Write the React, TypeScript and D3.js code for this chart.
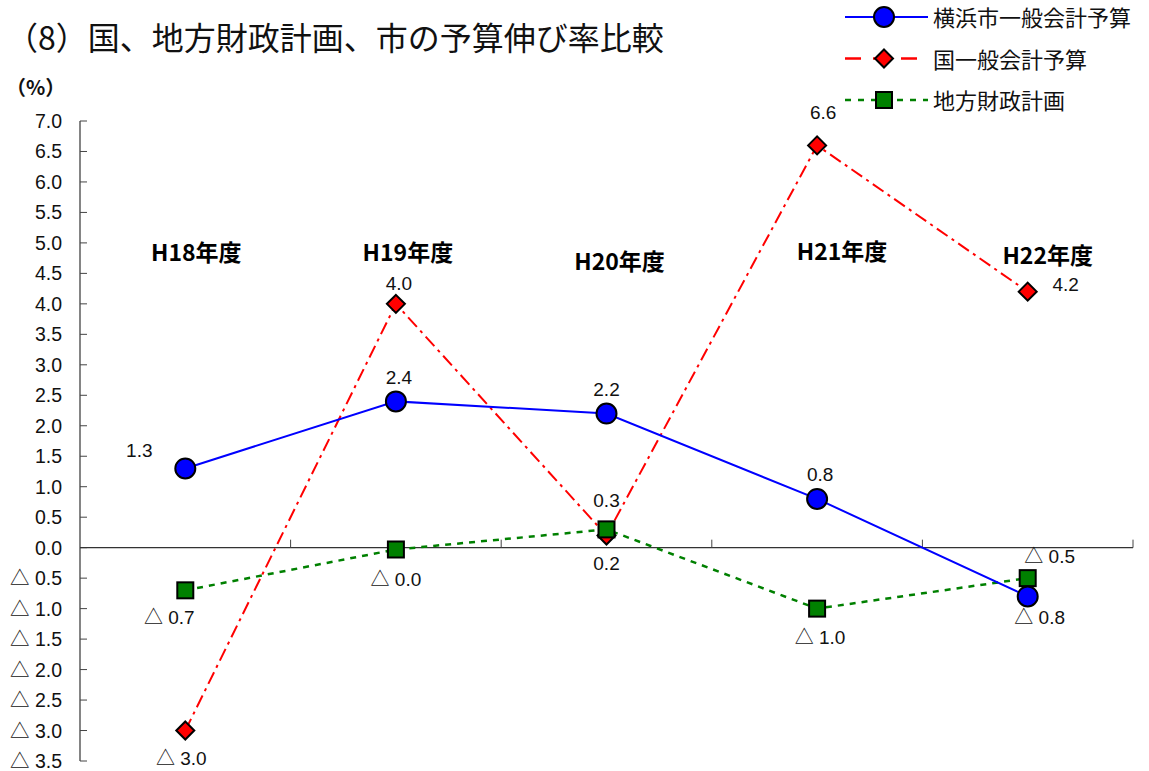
import React from "react";
import * as d3 from "d3";

// 年度（カテゴリ）
const categories = ["H18年度", "H19年度", "H20年度", "H21年度", "H22年度"];

// 伸び率（%）
const yokohamaValues = [1.3, 2.4, 2.2, 0.8, -0.8];
const nationalValues = [-3.0, 4.0, 0.2, 6.6, 4.2];
const localValues = [-0.7, -0.03, 0.3, -1.0, -0.5];

// 目盛
const yTicks = [7.0, 6.5, 6.0, 5.5, 5.0, 4.5, 4.0, 3.5, 3.0, 2.5, 2.0, 1.5, 1.0, 0.5, 0.0, -0.5, -1.0, -1.5, -2.0, -2.5, -3.0, -3.5];

const seriesNames = ["横浜市一般会計予算", "国一般会計予算", "地方財政計画"];

// ラベル配置（点からのずれ：文字の中心）
const yokohamaLabelPos = [[-46, -18], [3, -24], [0, -25], [3, -25], [12, 21]];
const nationalLabelPos = [[-4, 27], [3, -21], [0, 28], [6, -33], [38, -8]];
const localLabelPos = [[-16, 27], [0, 30], [0, -29], [3, 28], [22, -22]];
// 年度見出しの位置
const catLabelPos = [[11, 253], [12, 253], [13, 262], [25, 252], [20, 256]];

const fmt = (v: number) => {
  const s = Math.abs(v).toFixed(1);
  return v < 0 ? "△ " + s : s;
};

const W = 1149;
const H = 771;
const left = 80;
const right = 1133;
const top = 121;
const bottom = 761;

export default function App() {
  const x = d3.scaleBand<string>().domain(categories).range([left, right]).padding(0);
  const y = d3.scaleLinear().domain([-3.5, 7]).range([bottom, top]);
  const cx = (c: string) => (x(c) as number) + x.bandwidth() / 2;
  const y0 = y(0);

  const line = d3
    .line<number>()
    .x((_, i) => cx(categories[i]))
    .y((d) => y(d));

  const font = "'Liberation Sans', Arial, 'Noto Sans CJK JP', sans-serif";
  const cjk = "'Noto Sans CJK JP', sans-serif";

  const circle = (px: number, py: number, k: string) => (
    <circle key={k} cx={px} cy={py} r={10} fill="#0000ff" stroke="#000" strokeWidth={2} />
  );
  const diamond = (px: number, py: number, k: string) => (
    <path key={k} d={`M${px},${py - 9}L${px + 9},${py}L${px},${py + 9}L${px - 9},${py}Z`} fill="#ff0000" stroke="#000" strokeWidth={2} />
  );
  const square = (px: number, py: number, k: string) => (
    <rect key={k} x={px - 8} y={py - 8} width={16} height={16} fill="#008000" stroke="#000" strokeWidth={2} />
  );

  const series = [
    { name: seriesNames[1], values: nationalValues, color: "#ff0000", dash: "13,5,3,5", width: 2, marker: diamond, pos: nationalLabelPos },
    { name: seriesNames[2], values: localValues, color: "#008000", dash: "6,6", width: 2.5, marker: square, pos: localLabelPos },
    { name: seriesNames[0], values: yokohamaValues, color: "#0000ff", dash: undefined, width: 2, marker: circle, pos: yokohamaLabelPos },
  ];

  const legend = [
    { name: seriesNames[0], color: "#0000ff", dash: undefined, width: 2, marker: circle },
    { name: seriesNames[1], color: "#ff0000", dash: "16,12,16,12", width: 2.5, marker: diamond },
    { name: seriesNames[2], color: "#008000", dash: "6,7", width: 2.5, marker: square },
  ];

  return (
    <svg width={W} height={H} style={{ position: "absolute", left: 0, top: 0, background: "#fff" }}>
      <text x={6} y={50} fontFamily={cjk} fontSize={32} fill="#111">（8）国、地方財政計画、市の予算伸び率比較</text>
      <text x={6} y={95} fontFamily={cjk} fontSize={20} fontWeight="bold" fill="#111">（%）</text>

      {/* y axis */}
      <line x1={left} x2={left} y1={top} y2={bottom} stroke="#333" strokeWidth={1.2} />
      {yTicks.map((t) => (
        <g key={t}>
          <line x1={left} x2={left + 7} y1={y(t)} y2={y(t)} stroke="#444" strokeWidth={1} />
          <text x={62} y={y(t) + 7} textAnchor="end" fontFamily={font} fontSize={19.5} fill="#111">
            {fmt(t)}
          </text>
        </g>
      ))}

      {/* x axis at zero */}
      <line x1={left} x2={right} y1={y0} y2={y0} stroke="#333" strokeWidth={1.2} />
      {categories.map((c) => (
        <line key={c} x1={(x(c) as number) + x.bandwidth()} x2={(x(c) as number) + x.bandwidth()} y1={y0} y2={y0 - 8} stroke="#444" strokeWidth={1} />
      ))}

      {/* year headings */}
      {categories.map((c, i) => (
        <text key={c} x={cx(c) + catLabelPos[i][0]} y={catLabelPos[i][1] + 8} textAnchor="middle" fontFamily={cjk} fontSize={23} fontWeight="bold" fill="#000">
          {c}
        </text>
      ))}

      {/* lines */}
      {series.map((s) => (
        <path key={s.name} d={line(s.values) as string} fill="none" stroke={s.color} strokeWidth={s.width} strokeDasharray={s.dash} />
      ))}
      {/* markers */}
      {series.map((s) => (
        <g key={s.name + "m"}>{s.values.map((v, i) => s.marker(cx(categories[i]), y(v), s.name + i))}</g>
      ))}
      {/* value labels */}
      {series.map((s) => (
        <g key={s.name + "l"}>
          {s.values.map((v, i) => (
            <text key={i} x={cx(categories[i]) + s.pos[i][0]} y={y(v) + s.pos[i][1] + 7} textAnchor="middle" fontFamily={font} fontSize={19} fill="#111">
              {fmt(v)}
            </text>
          ))}
        </g>
      ))}

      {/* legend */}
      {legend.map((l, i) => {
        const ly = 17 + i * 41.5;
        return (
          <g key={l.name}>
            <line x1={845} x2={928} y1={ly} y2={ly} stroke={l.color} strokeWidth={l.width} strokeDasharray={l.dash} />
            {l.marker(884, ly, "lg" + i)}
            <text x={933} y={ly + 9} fontFamily={cjk} fontSize={22} fill="#111">
              {l.name}
            </text>
          </g>
        );
      })}
    </svg>
  );
}
